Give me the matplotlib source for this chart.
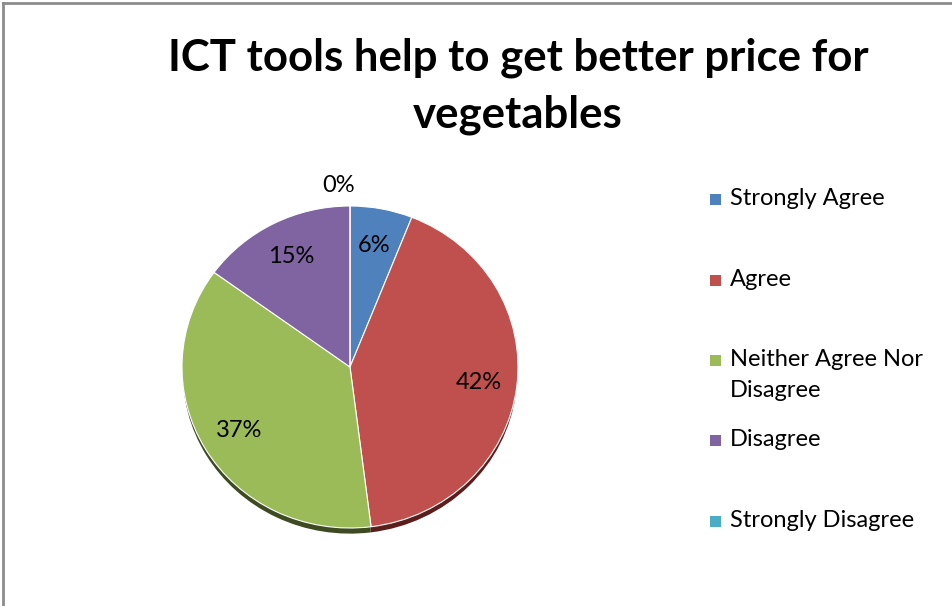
import matplotlib.pyplot as plt
from matplotlib.patches import Rectangle
from matplotlib.lines import Line2D

categories = ["Strongly Agree", "Agree", "Neither Agree Nor\nDisagree", "Disagree", "Strongly Disagree"]
shares = [6, 42, 37, 15, 0]
colors = ["#4F81BD", "#C0504D", "#9BBB59", "#8064A2", "#4BACC6"]
side_colors = ["#2b4a70", "#5a1e1d", "#3d4a22", "#3f2f55", "#25606f"]
title = "ICT tools help to get better price for\nvegetables"

plt.rcParams['font.family'] = ['Lato', 'DejaVu Sans']

W, H = 953, 606
fig = plt.figure(figsize=(W / 100, H / 100), dpi=100)

# pie area in pixels: centre (350, 367), rx 168, ry 161, plus room for the rim
cx, cy, rx, ry = 350, 367, 168, 161
rim = 0.04
ax = fig.add_axes([(cx - rx) / W, 1 - (cy + ry * (1 + rim)) / H,
                   2 * rx / W, ry * (2 + rim) / H])

# darker copy shifted down gives the thin 3D rim under the pie
ax.pie(shares, colors=side_colors, startangle=90, counterclock=False,
       radius=0.995, center=(0, -rim), frame=False,
       wedgeprops=dict(linewidth=0))
wedges, texts, autotexts = ax.pie(
    shares, colors=colors, startangle=90, counterclock=False, radius=1,
    autopct='%1.0f%%', pctdistance=0.77, frame=False,
    wedgeprops=dict(edgecolor='white', linewidth=0.8),
    textprops=dict(fontsize=17, color='black'))
ax.set_xlim(-1, 1)
ax.set_ylim(-1 - rim, 1)
ax.set_aspect('auto')
ax.axis('off')

# the empty slice label sits above the pie
autotexts[-1].set_position((-0.07, 1.13))

fig.text(518 / W, 1 - 86 / H, title, ha='center', va='center',
         fontsize=31.5, fontweight='bold', linespacing=1.5)

# legend
legend_y = [199, 280, 360, 440, 521]
for name, col, y in zip(categories, colors, legend_y):
    fig.add_artist(Rectangle((710 / W, 1 - (y + 6) / H), 11 / W, 11 / H,
                             transform=fig.transFigure, facecolor=col,
                             edgecolor='none'))
    fig.text(730 / W, 1 - (y - 11) / H, name, ha='left', va='top',
             fontsize=17, linespacing=1.6)

# chart border on the top and left edges
fig.add_artist(Line2D([3 / W, 3 / W], [0, 1 - 3 / H], color='#8c8c8c',
                      linewidth=2, transform=fig.transFigure))
fig.add_artist(Line2D([3 / W, 1], [1 - 3 / H, 1 - 3 / H], color='#8c8c8c',
                      linewidth=2, transform=fig.transFigure))

fig.savefig('out.png', dpi=100)
